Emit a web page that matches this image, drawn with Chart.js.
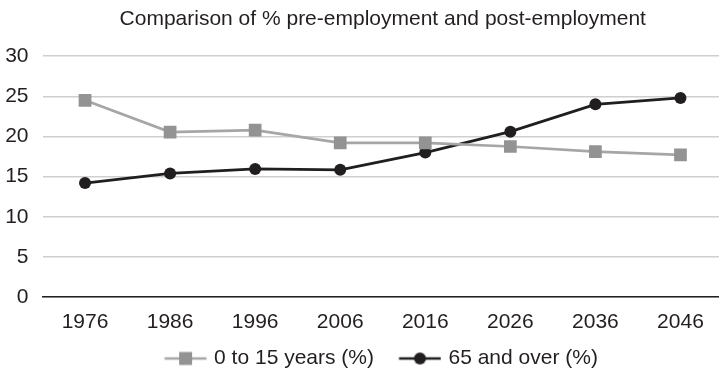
<!DOCTYPE html>
<html>
<head>
<meta charset="utf-8">
<script src="https://cdn.jsdelivr.net/npm/chart.js@4"></script>
<style>
  html, body { margin: 0; padding: 0; background: #ffffff; overflow: hidden; }
  canvas { display: block; }
</style>
</head>
<body>
<canvas id="chart" width="732" height="373"></canvas>
<script>
// Census years and projections
const years = ['1976', '1986', '1996', '2006', '2016', '2026', '2036', '2046'];
// Share of population aged 0 to 15 (%)
const youngShare = [24.5, 20.55, 20.8, 19.2, 19.2, 18.75, 18.1, 17.7];
// Share of population aged 65 and over (%)
const olderShare = [14.2, 15.4, 15.95, 15.85, 18.0, 20.6, 24.0, 24.8];
const seriesNames = ['0 to 15 years (%)', '65 and over (%)'];

const GREY = '#939393';
const GREY_LINE = '#a6a6a6';
const DARK = '#211e1f';
const TEXT = '#231f20';
const FONT_SIZE = 21;

// Legend swatch: a short line with the series marker in the middle,
// drawn at the right end of the image so the item gap sits before it.
const SWATCH_BOX = 60;   // legend box width reserved per item
const SWATCH_IMG = 67;   // image width (centred on the box)
function legendSwatch(lineColor, fillColor, shape) {
  const c = document.createElement('canvas');
  c.width = SWATCH_IMG; c.height = 16;
  const g = c.getContext('2d');
  const x0 = SWATCH_IMG - 42.5, x1 = SWATCH_IMG - 0.5, cx = (x0 + x1) / 2;
  g.strokeStyle = lineColor;
  g.lineWidth = 2.7;
  g.beginPath(); g.moveTo(x0, 8); g.lineTo(x1, 8); g.stroke();
  g.fillStyle = fillColor;
  if (shape === 'rect') {
    g.fillRect(cx - 6.5, 1.5, 13, 13);
  } else {
    g.beginPath(); g.arc(cx, 8, 6, 0, Math.PI * 2); g.fill();
  }
  return c;
}

const swatches = [
  legendSwatch(GREY_LINE, GREY, 'rect'),
  legendSwatch(DARK, DARK, 'circle')
];

// Moves the legend block slightly after layout
const legendOffset = {
  id: 'legendOffset',
  afterLayout(chart) {
    const l = chart.legend;
    if (!l) return;
    const dx = -12, dy = 6;
    l.left += dx; l.right += dx;
    l.top += dy; l.bottom += dy;
  }
};

Chart.defaults.font.family = '"Liberation Sans", Arial, Helvetica, sans-serif';
Chart.defaults.color = TEXT;

new Chart(document.getElementById('chart'), {
  type: 'line',
  plugins: [legendOffset],
  data: {
    labels: years,
    datasets: [
      {
        label: seriesNames[0],
        data: youngShare,
        borderColor: GREY_LINE,
        backgroundColor: GREY,
        borderWidth: 2.7,
        pointStyle: 'rect',
        pointRadius: 9,
        pointHoverRadius: 9,
        pointBorderWidth: 0,
        pointBackgroundColor: GREY,
        tension: 0
      },
      {
        label: seriesNames[1],
        data: olderShare,
        borderColor: DARK,
        backgroundColor: DARK,
        borderWidth: 2.8,
        pointStyle: 'circle',
        pointRadius: 6,
        pointHoverRadius: 6,
        pointBorderWidth: 0,
        pointBackgroundColor: DARK,
        tension: 0
      }
    ]
  },
  options: {
    responsive: false,
    maintainAspectRatio: false,
    devicePixelRatio: 1,
    animation: false,
    layout: { padding: { left: 5, right: 0, top: 0, bottom: 0 } },
    plugins: {
      title: {
        display: true,
        fullSize: false,
        text: 'Comparison of % pre-employment and post-employment',
        font: { size: FONT_SIZE, weight: 'normal' },
        color: TEXT,
        padding: { top: 7, bottom: 24 }
      },
      legend: {
        position: 'bottom',
        fullSize: false,
        labels: {
          usePointStyle: true,
          pointStyleWidth: SWATCH_BOX,
          font: { size: FONT_SIZE },
          color: TEXT,
          padding: 4,
          generateLabels: (chart) => chart.data.datasets.map((ds, i) => ({
            text: ds.label,
            pointStyle: swatches[i],
            fillStyle: ds.backgroundColor,
            strokeStyle: ds.borderColor,
            lineWidth: 0,
            hidden: false,
            datasetIndex: i,
            fontColor: TEXT
          }))
        }
      },
      tooltip: { enabled: false }
    },
    scales: {
      x: {
        offset: true,
        grid: { display: false, drawTicks: false },
        border: { display: true, color: '#231f20', width: 1.6 },
        ticks: { font: { size: FONT_SIZE }, color: TEXT, padding: 13, maxRotation: 0 },
        afterFit(scale) {
          scale.paddingLeft = 0;
          scale.paddingRight = 0;
          scale.height = 41;
        }
      },
      y: {
        min: 0,
        max: 30,
        ticks: { stepSize: 5, font: { size: FONT_SIZE }, color: TEXT, padding: 14 },
        grid: { color: '#cfcfcf', lineWidth: 1.6, drawTicks: false },
        border: { display: false },
        afterFit(scale) {
          scale.width = 37.5;
        }
      }
    }
  }
});
</script>
</body>
</html>
